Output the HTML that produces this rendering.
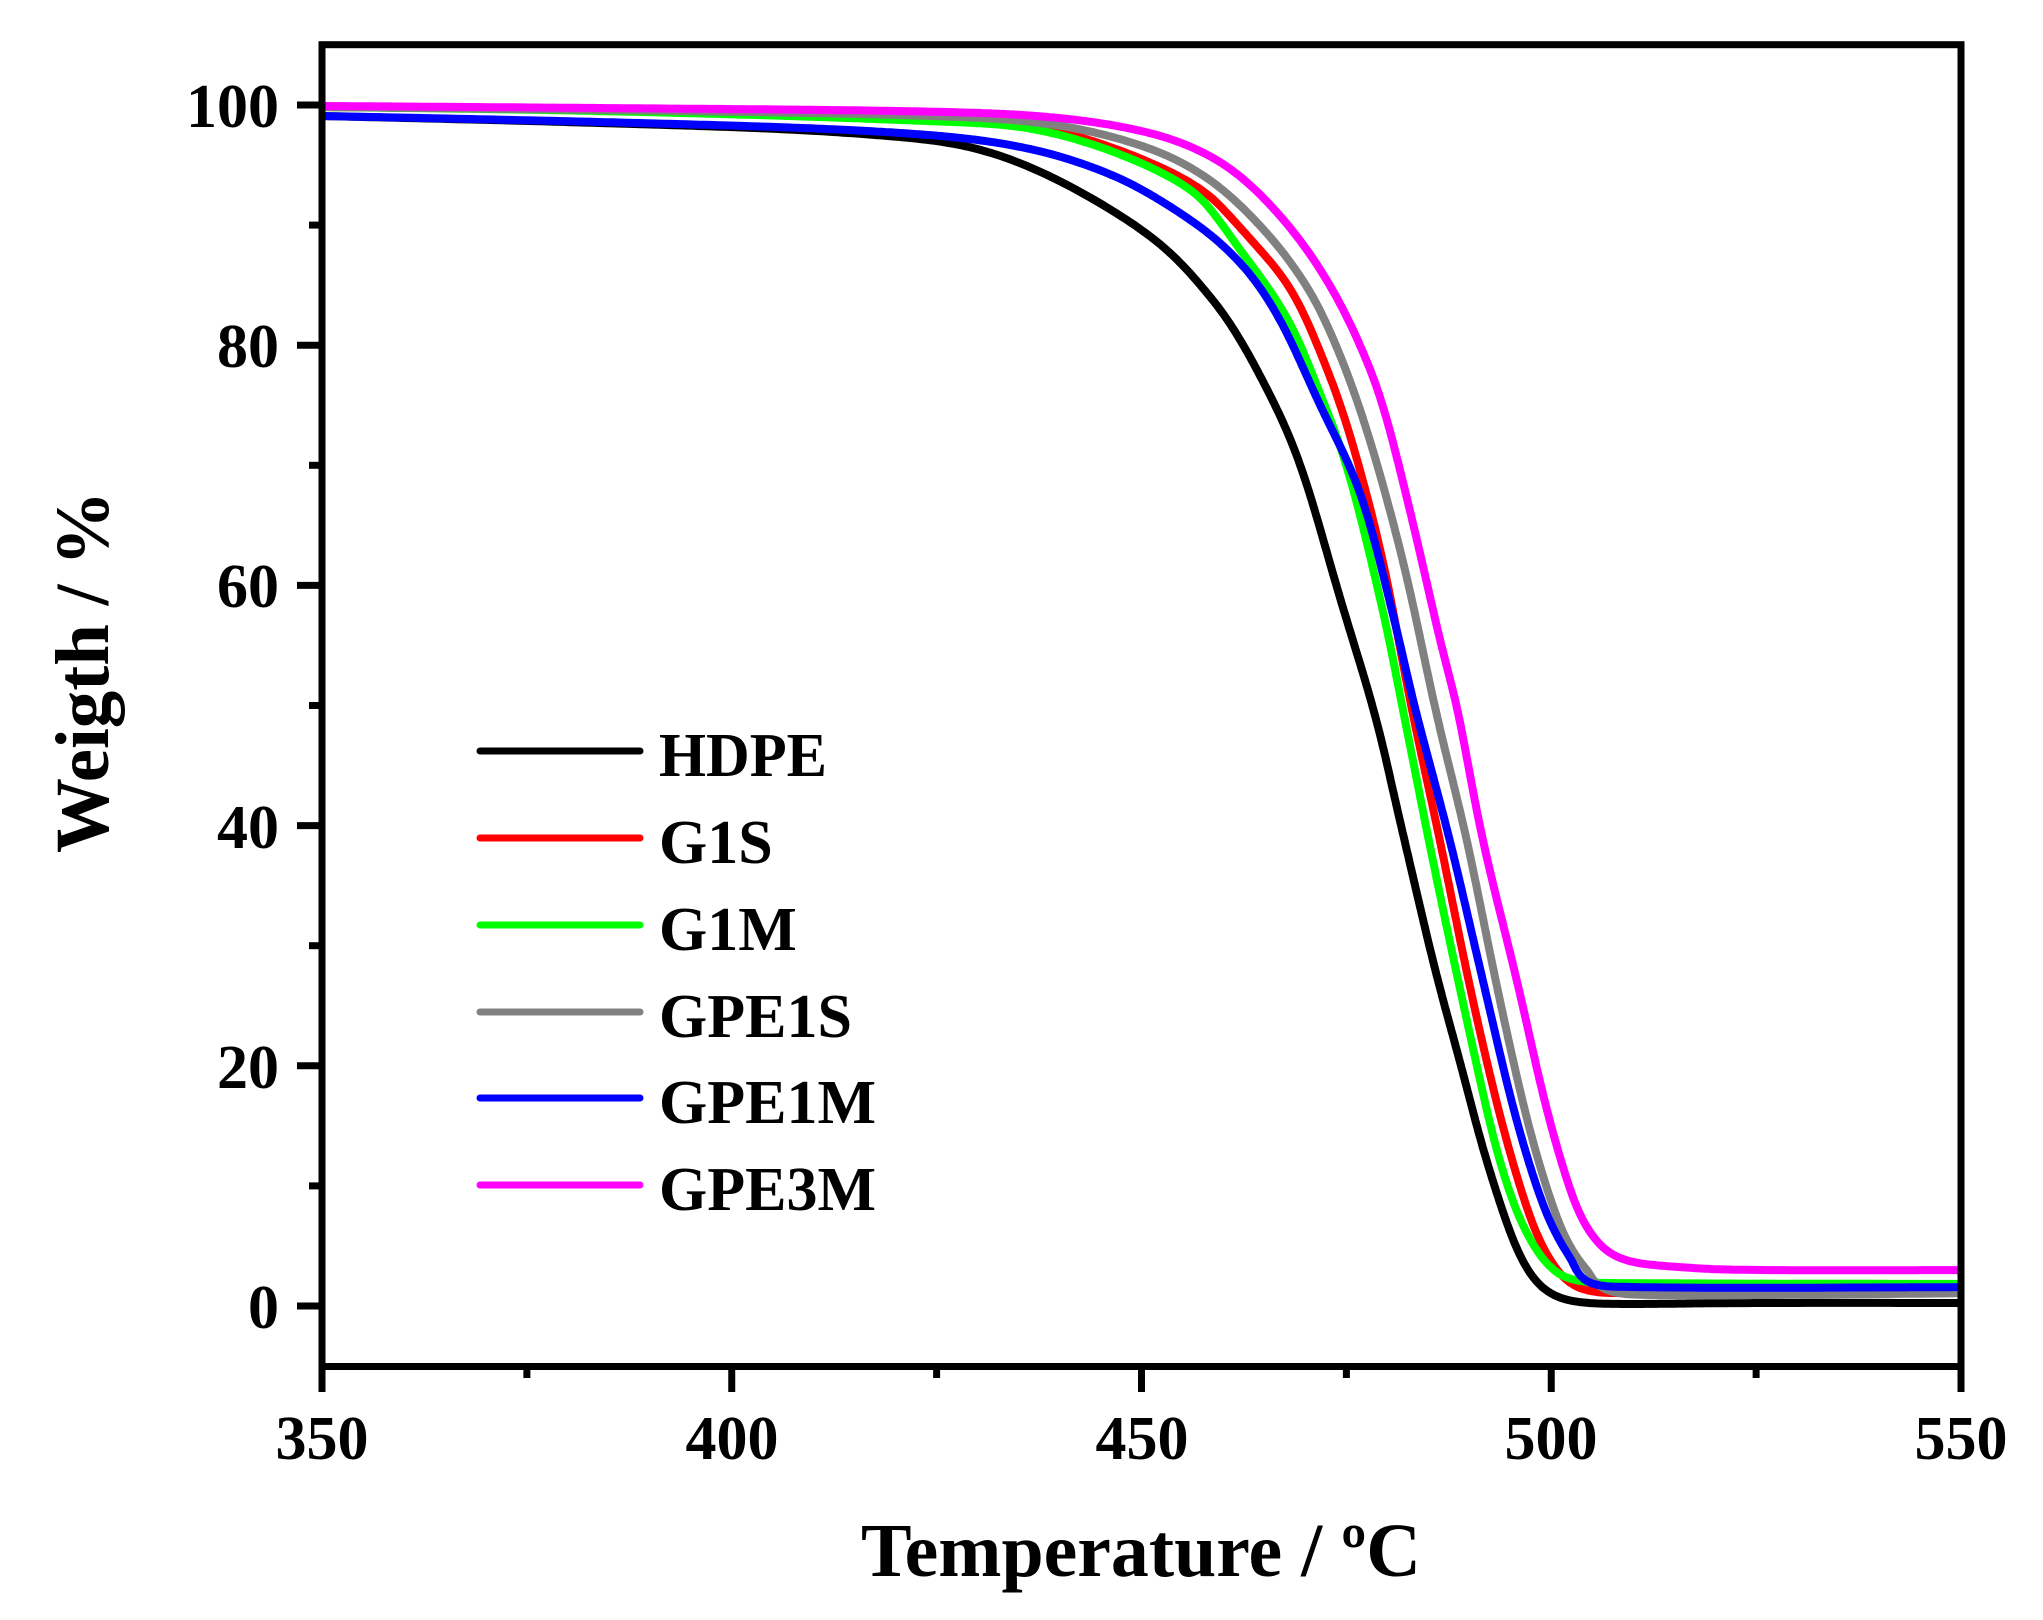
<!DOCTYPE html>
<html><head><meta charset="utf-8"><style>
html,body{margin:0;padding:0;background:#fff;}
svg{display:block;}
text{font-family:"Liberation Serif",serif;font-weight:bold;fill:#000;}
</style></head><body>
<svg id="s" width="2043" height="1620" viewBox="0 0 2043 1620" xmlns="http://www.w3.org/2000/svg">
<defs><clipPath id="cp"><rect x="325" y="48" width="1633" height="1315"/></clipPath></defs>
<g id="curves" fill="none" stroke-width="8" stroke-linejoin="round" clip-path="url(#cp)"></g>
<rect x="322" y="44.7" width="1639" height="1321.8" fill="none" stroke="#000" stroke-width="7"/>
<g stroke="#000" stroke-width="7" id="ticks"></g>
<g font-size="62" text-anchor="end">
<text x="279" y="1328">0</text>
<text x="279" y="1088">20</text>
<text x="279" y="848">40</text>
<text x="279" y="607">60</text>
<text x="279" y="367">80</text>
<text x="279" y="127">100</text>
</g>
<g font-size="62" text-anchor="middle">
<text x="322" y="1459">350</text>
<text x="732" y="1459">400</text>
<text x="1142" y="1459">450</text>
<text x="1551" y="1459">500</text>
<text x="1961" y="1459">550</text>
</g>
<text x="1141" y="1576" font-size="76" text-anchor="middle" textLength="560" lengthAdjust="spacingAndGlyphs">Temperature / ºC</text>
<text transform="translate(108,672) rotate(-90)" font-size="76" text-anchor="middle" textLength="362" lengthAdjust="spacingAndGlyphs">Weigth / %</text>
<g stroke-width="7" stroke-linecap="round">
<line x1="480" y1="751" x2="640" y2="751" stroke="#000"/>
<line x1="480" y1="838" x2="640" y2="838" stroke="#ff0000"/>
<line x1="480" y1="925" x2="640" y2="925" stroke="#00ff00"/>
<line x1="480" y1="1012" x2="640" y2="1012" stroke="#808080"/>
<line x1="480" y1="1098" x2="640" y2="1098" stroke="#0000ff"/>
<line x1="480" y1="1185" x2="640" y2="1185" stroke="#ff00ff"/>
</g>
<g font-size="62">
<text x="659" y="776" textLength="168" lengthAdjust="spacingAndGlyphs">HDPE</text>
<text x="659" y="863">G1S</text>
<text x="659" y="950">G1M</text>
<text x="659" y="1037">GPE1S</text>
<text x="659" y="1123">GPE1M</text>
<text x="659" y="1210">GPE3M</text>
</g>
</svg>
<script>
var NS="http://www.w3.org/2000/svg";
var T=document.getElementById("ticks");
function ln(x1,y1,x2,y2){var l=document.createElementNS(NS,"line");l.setAttribute("x1",x1);l.setAttribute("y1",y1);l.setAttribute("x2",x2);l.setAttribute("y2",y2);T.appendChild(l);}
for(var i=0;i<=10;i++){var y=1306-i*10*12.01;ln(322,y,i%2?309:297,y);}
for(var j=0;j<=8;j++){var x=322+j*25*8.195;ln(x,1366,x,j%2?1378:1392);}
var C={
"#000000":[[300,115],[322,116],[600,123],[850,133],[1000,155],[1141,229],[1216,304],[1257,370],[1299,461],[1340,598],[1375,715],[1400,821],[1433,961],[1460,1062],[1487,1162],[1517,1250],[1540,1287],[1567,1301],[1620,1304],[1750,1303],[1990,1303]],
"#ff0000":[[300,107],[322,107],[600,110],[900,118],[1050,129],[1187,180],[1249,238],[1290,287],[1319,349],[1349,432],[1382,557],[1412,710],[1440,841],[1473,1001],[1507,1142],[1540,1242],[1573,1287],[1617,1293],[1750,1292],[1990,1292]],
"#00ff00":[[300,107],[322,107],[600,111],[900,120],[1050,132],[1183,184],[1237,246],[1286,316],[1319,391],[1349,474],[1382,607],[1403,710],[1433,861],[1467,1021],[1500,1162],[1533,1246],[1567,1279],[1617,1283],[1990,1284]],
"#808080":[[300,107],[322,107],[600,110],[900,115],[1050,124],[1154,150],[1216,184],[1278,246],[1319,308],[1361,412],[1402,557],[1436,712],[1467,841],[1500,1001],[1533,1142],[1567,1242],[1600,1283],[1633,1295],[1990,1293]],
"#0000ff":[[300,116],[322,116],[600,122],[850,130],[1000,143],[1100,170],[1174,209],[1237,258],[1278,316],[1319,403],[1361,495],[1394,619],[1416,712],[1450,841],[1483,981],[1517,1122],[1550,1222],[1583,1275],[1617,1287],[1990,1287]],
"#ff00ff":[[300,106],[322,106],[600,108],[900,111],[1050,117],[1154,134],[1224,163],[1278,213],[1319,267],[1353,329],[1382,403],[1411,515],[1440,640],[1458,712],[1483,841],[1517,981],[1550,1122],[1583,1222],[1617,1258],[1667,1266],[1750,1270],[1990,1270]]
};
var G=document.getElementById("curves");
for(var c in C){var p=C[c],pts=[];
for(var k=0;k<p.length-1;k++){var p0=p[k>0?k-1:0],p1=p[k],p2=p[k+1],p3=p[k+2<p.length?k+2:k+1];
var c1x=p1[0]+(p2[0]-p0[0])/6,c1y=p1[1]+(p2[1]-p0[1])/6,c2x=p2[0]-(p3[0]-p1[0])/6,c2y=p2[1]-(p3[1]-p1[1])/6;
for(var s=0;s<40;s++){var t=s/40,u=1-t;
pts.push([u*u*u*p1[0]+3*u*u*t*c1x+3*u*t*t*c2x+t*t*t*p2[0],u*u*u*p1[1]+3*u*u*t*c1y+3*u*t*t*c2y+t*t*t*p2[1]]);}}
pts.push(p[p.length-1]);
// resample by arc length
var rs=[pts[0]],acc=0,step=2;
for(var m=1;m<pts.length;m++){var dx=pts[m][0]-pts[m-1][0],dy=pts[m][1]-pts[m-1][1],L=Math.hypot(dx,dy);acc+=L;if(acc>=step){rs.push(pts[m]);acc=0;}}
rs.push(pts[pts.length-1]);
var W=10,sm=[];
for(var a=0;a<rs.length;a++){var sx=0,sy=0,n=0;for(var b=-W;b<=W;b++){var q=rs[Math.min(rs.length-1,Math.max(0,a+b))];sx+=q[0];sy+=q[1];n++;}sm.push([sx/n,sy/n]);}
var d="M"+sm.map(function(q){return q[0].toFixed(1)+","+q[1].toFixed(1);}).join(" L");
var e=document.createElementNS(NS,"path");e.setAttribute("d",d);e.setAttribute("stroke",c);G.appendChild(e);}
</script>
</body></html>
